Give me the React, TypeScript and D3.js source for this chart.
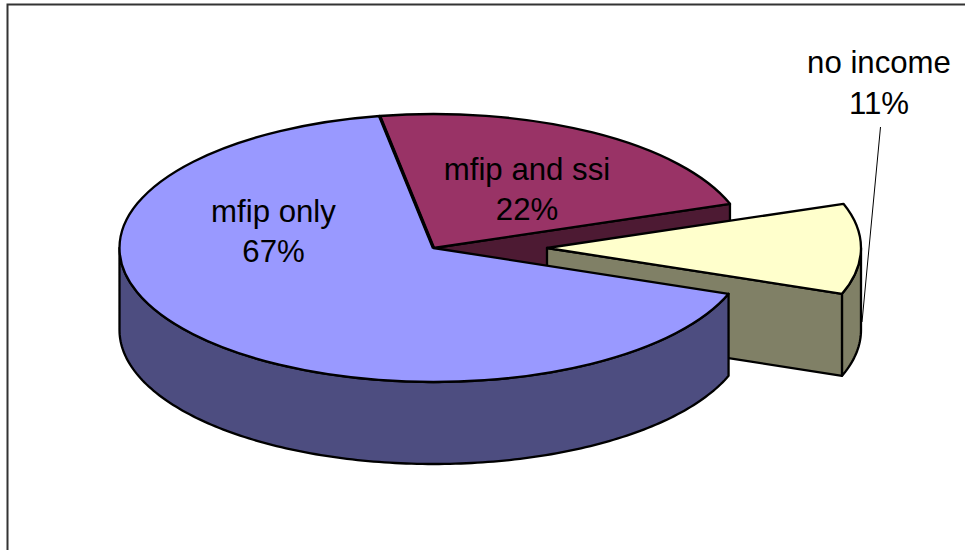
import { useMemo } from 'react'
import * as d3 from 'd3'

const categories = ['mfip only', 'mfip and ssi', 'no income']
const shares = [66.7, 22.4, 10.9]
const topColors = ['#9999ff', '#993366', '#ffffcc']
const wallColors = ['#4d4d80', '#4d1a33', '#808066']

const width = 965
const height = 550
const cx = 433.5
const cy = 248
const rx = 314
const ry = 134
const depth = 82
const explode = 113.5
const startDeg = 110

const labelPos = [
  { x: 273.5, y1: 222, y2: 262 },
  { x: 527, y1: 180, y2: 220 },
  { x: 879, y1: 73, y2: 114 },
]

const rad = (deg: number) => (deg * Math.PI) / 180

// ellipse point for a pie angle (0 = up, clockwise)
const px = (a: number) => rx * Math.sin(a)
const py = (a: number) => -ry * Math.cos(a)

export default function App() {
  const slices = useMemo(() => {
    const pie = d3
      .pie<number>()
      .sort(null)
      .startAngle(rad(startDeg))
      .endAngle(rad(startDeg + 360))
    return pie(shares)
  }, [])

  const arc = d3.arc<d3.PieArcDatum<number>>().innerRadius(0).outerRadius(rx)
  const pct = d3.format('.0%')
  const total = d3.sum(shares)

  // outer rim, only the part facing the viewer
  const rim = (a0: number, a1: number) => {
    const from = Math.max(a0, rad(90))
    const to = Math.min(a1, rad(270))
    const steps = d3.range(from, to, rad(1)).concat(to)
    return d3
      .area<number>()
      .x(px)
      .y0(py)
      .y1((a) => py(a) + depth)(steps)
  }

  // flat cut face from the apex to the rim
  const cut = (a: number) =>
    d3.line()([
      [0, 0],
      [px(a), py(a)],
      [px(a), py(a) + depth],
      [0, depth],
    ]) + 'Z'

  const stroke = { stroke: '#000', strokeWidth: 2.3, strokeLinejoin: 'round' as const }

  const top = (i: number) => (
    <path
      d={arc(slices[i]) ?? ''}
      transform={`scale(1,${ry / rx})`}
      fill={topColors[i]}
      vectorEffect="non-scaling-stroke"
      {...stroke}
    />
  )

  const seam = slices[0].endAngle
  // the last slice wraps past a full turn, bring it back for the rim
  const lastStart = slices[2].startAngle - 2 * Math.PI
  const lastEnd = slices[2].endAngle - 2 * Math.PI

  return (
    <svg
      width={width}
      height={height}
      style={{ position: 'absolute', left: 0, top: 0, background: '#fff' }}
    >
      <path d={`M7.5,${height}V4.5H${width}`} fill="none" stroke="#333" strokeWidth={2} />

      <g transform={`translate(${cx},${cy})`}>
        {/* mfip and ssi sits at the back */}
        <path d={cut(slices[1].endAngle)} fill={wallColors[1]} {...stroke} />
        {top(1)}

        {/* no income is pulled out to the right */}
        <g transform={`translate(${explode},0)`}>
          <path d={cut(lastEnd)} fill={wallColors[2]} {...stroke} />
          <path d={rim(lastStart, lastEnd) ?? ''} fill={wallColors[2]} {...stroke} />
          {top(2)}
        </g>

        {/* mfip only in front */}
        <path d={rim(slices[0].startAngle, slices[0].endAngle) ?? ''} fill={wallColors[0]} {...stroke} />
        {top(0)}

        {/* heavier seam between the two back slices */}
        <path d={d3.line()([[0, 0], [px(seam), py(seam)]]) ?? ''} fill="none" stroke="#000" strokeWidth={3.4} />
      </g>

      <path d="M880.5,127L862,322" fill="none" stroke="#000" strokeWidth={1} />

      <g fontFamily="'Liberation Sans', Arial, sans-serif" fontSize={31.2} textAnchor="middle" fill="#000">
        {categories.map((c, i) => (
          <text key={c}>
            <tspan x={labelPos[i].x} y={labelPos[i].y1}>
              {c}
            </tspan>
            <tspan x={labelPos[i].x} y={labelPos[i].y2}>
              {pct(shares[i] / total)}
            </tspan>
          </text>
        ))}
      </g>
    </svg>
  )
}
